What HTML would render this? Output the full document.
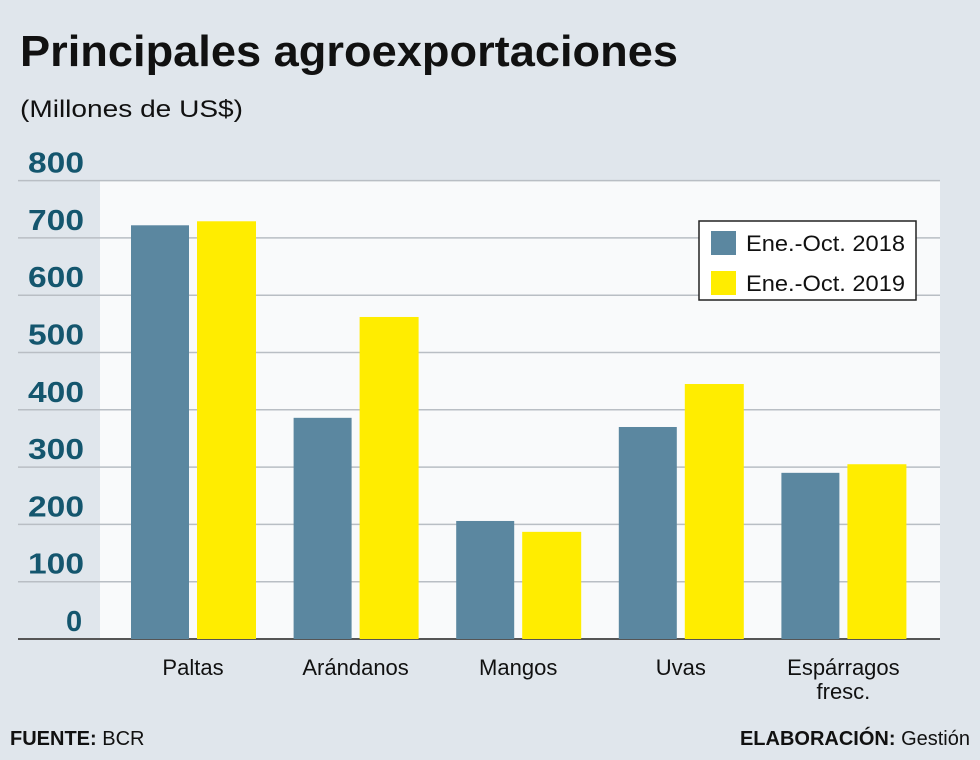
<!DOCTYPE html>
<html><head><meta charset="utf-8"><style>
body{margin:0;width:980px;height:755px;background:#e0e6ec;font-family:"Liberation Sans",sans-serif;overflow:hidden}
</style></head><body>
<svg width="980" height="755" xmlns="http://www.w3.org/2000/svg">
<text x="20" y="66" font-size="44" font-weight="bold" fill="#111" textLength="658" lengthAdjust="spacingAndGlyphs">Principales agroexportaciones</text>
<text x="20" y="117" font-size="24" fill="#111" textLength="223" lengthAdjust="spacingAndGlyphs">(Millones de US$)</text>
<rect x="100" y="181" width="840" height="458" fill="#f9fafb"/>
<g id="grid"></g><g id="bars"></g><g id="labels"></g>
<g>
<rect x="699" y="221" width="217" height="79" fill="#fff" stroke="#222" stroke-width="1.5"/>
<rect x="711" y="231" width="25" height="24" fill="#5b87a0"/>
<text x="746" y="251" font-size="22" fill="#111" textLength="159" lengthAdjust="spacingAndGlyphs">Ene.-Oct. 2018</text>
<rect x="711" y="271" width="25" height="24" fill="#ffed00"/>
<text x="746" y="291" font-size="22" fill="#111" textLength="159" lengthAdjust="spacingAndGlyphs">Ene.-Oct. 2019</text>
</g>
<text x="10" y="745" font-size="20" fill="#111"><tspan font-weight="bold">FUENTE:</tspan> BCR</text>
<text x="970" y="745" font-size="20" fill="#111" text-anchor="end"><tspan font-weight="bold">ELABORACIÓN:</tspan> Gestión</text>
</svg>
<script>
const categories=[["Paltas"],["Arándanos"],["Mangos"],["Uvas"],["Espárragos","fresc."]];
const values2018=[722,386,206,370,290];
const values2019=[729,562,187,445,305];
const yTicks=[0,100,200,300,400,500,600,700,800];
const NS="http://www.w3.org/2000/svg";
const y0=639,pxPer=0.573;
function y(v){return y0-v*pxPer;}
function xc(i){return 193+i*162.6;}
function mk(tag,attrs,parent){const e=document.createElementNS(NS,tag);for(const k in attrs)e.setAttribute(k,attrs[k]);document.getElementById(parent).appendChild(e);return e;}
yTicks.forEach(t=>{
 const l=mk('line',{x1:18,x2:940,y1:y(t),y2:y(t),stroke:t===0?'#555':'#b9bec4','stroke-width':t===0?2:1.5},'grid');
 
 
 const attrs={x:28,y:y(t)-8,'font-size':29,'font-weight':'bold',fill:'#14566e'};
 if(String(t).length===3){attrs.textLength=56;attrs.lengthAdjust='spacingAndGlyphs';}
 else{attrs.x=66;}
 const tx=mk('text',attrs,'grid');
 tx.textContent=t;
 
 
});
categories.forEach((c,i)=>{
 const a=mk('rect',{x:xc(i)-62,y:y(values2018[i]),width:58,height:values2018[i]*pxPer,fill:'#5b87a0'},'bars');
 
 
 const b=mk('rect',{x:xc(i)+4,y:y(values2019[i]),width:59,height:values2019[i]*pxPer,fill:'#ffed00'},'bars');
 
 
 c.forEach((line,j)=>{
  const t=mk('text',{x:xc(i),y:675+j*24,'font-size':22,fill:'#111','text-anchor':'middle'},'labels');
  t.textContent=line;
  
  
 });
});
</script>
</body></html>
